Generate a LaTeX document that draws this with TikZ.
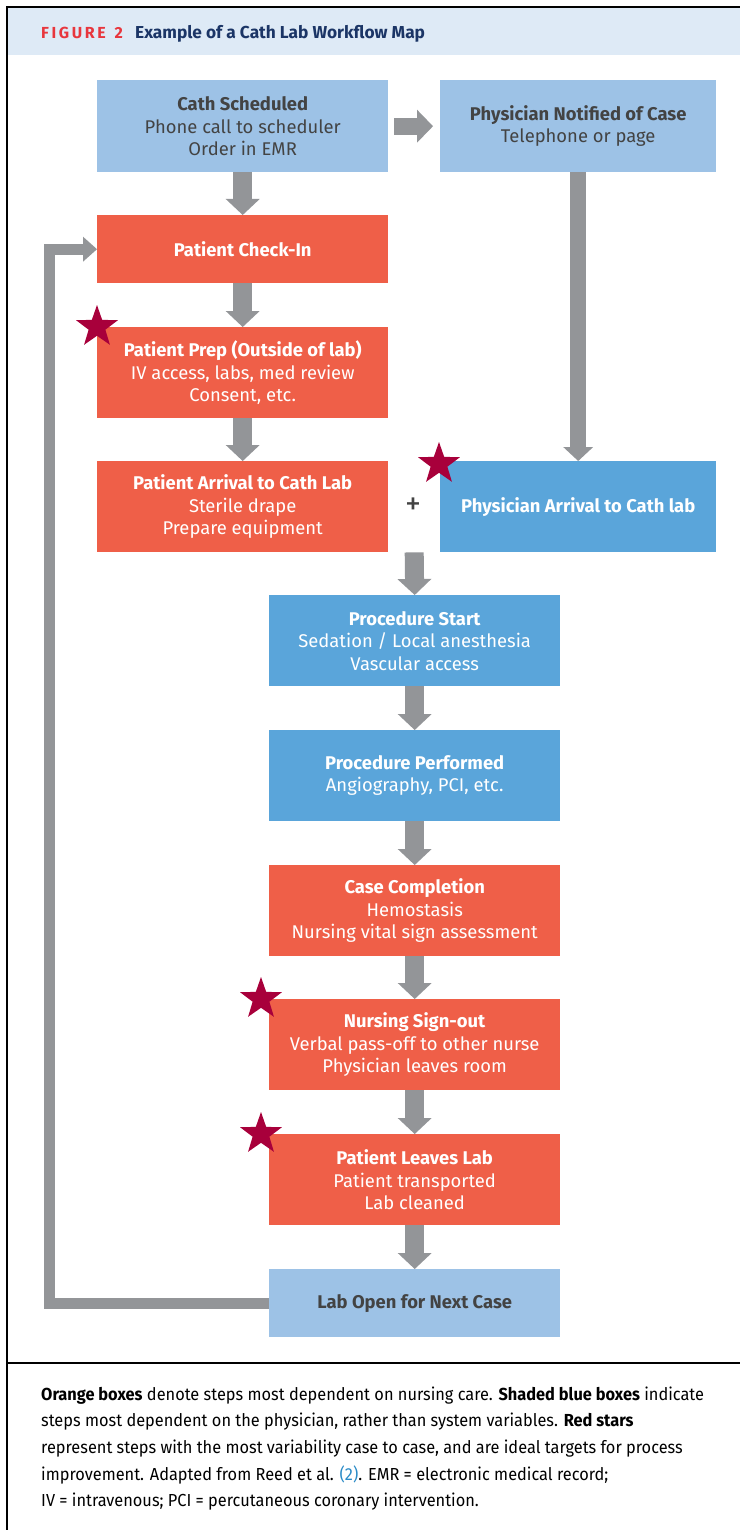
\documentclass[tikz,border=0pt]{standalone}
\usepackage{fontspec}
\setmainfont{Fira Sans}
\newfontfamily\capfont[FakeStretch=0.94]{Fira Sans}
\newfontfamily\headfont{Fira Sans}
\usetikzlibrary{arrows.meta,shapes.geometric,calc}
\definecolor{lblue}{HTML}{9DC2E6}
\definecolor{mblue}{HTML}{5AA5DA}
\definecolor{oran}{HTML}{EF5F48}
\definecolor{arrgray}{HTML}{939598}
\definecolor{starred}{HTML}{A8003B}
\definecolor{txtgray}{HTML}{434343}
\definecolor{headbg}{HTML}{DEEAF6}
\definecolor{navy}{HTML}{1B3566}
\definecolor{figred}{HTML}{E8363D}
\definecolor{linkblue}{HTML}{2A8BC7}
\tikzset{
  box/.style={rectangle, inner sep=0pt, align=center, anchor=north west,
    font=\fontsize{18.4}{22.5}\selectfont},
  lbbox/.style={box, fill=lblue, text=txtgray},
  mbbox/.style={box, fill=mblue, text=white},
  orbox/.style={box, fill=oran, text=white},
  dn/.style={draw=arrgray, line width=19pt,
    -{Triangle[width=34pt,length=16pt,line width=0pt]}},
  redstar/.style={star, star points=5, star point ratio=2.5, fill=starred,
    inner sep=0pt, minimum size=44pt},
  capline/.style={anchor=base west, inner sep=0pt, text=black,
    font=\capfont\fontsize{17.4}{20}\selectfont},
}
\newcommand{\ls}{\kern2.6pt}
\begin{document}
\begin{tikzpicture}[x=1pt,y=-1pt]
\useasboundingbox (0,0) rectangle (740,1530);
\fill[white] (0,0) rectangle (740,1530);
% header
\fill[headbg] (8,8) rectangle (740,55);
\draw[line width=2pt] (7,1530) -- (7,7) -- (740,7);
\draw[line width=2pt] (7,1363) -- (740,1363);
\node[anchor=base west, inner sep=0pt, text=figred,
  font=\headfont\bfseries\fontsize{16}{18}\selectfont] (figno) at (41,39)
  {F\ls I\ls G\ls U\ls R\ls E\ls\ \ls 2};
\node[anchor=base west, inner sep=0pt, text=navy,
  font=\headfont\bfseries\fontsize{17.3}{18}\selectfont] (title) at (135,39)
  {Example of a Cath Lab Workflow Map};
% boxes
\node[lbbox, minimum width=291pt, minimum height=92pt] (cath) at (97,80)
  {\textbf{Cath Scheduled}\\Phone call to scheduler\\Order in EMR};
\node[lbbox, minimum width=276pt, minimum height=92pt] (physnot) at (440,80)
  {\textbf{Physician Notified of Case}\\Telephone or page};
\node[orbox, minimum width=291pt, minimum height=68pt] (checkin) at (97,215)
  {\textbf{Patient Check-In}};
\node[orbox, minimum width=291pt, minimum height=91pt] (prep) at (97,327)
  {\textbf{Patient Prep (Outside of lab)}\\IV access, labs, med review\\Consent, etc.};
\node[orbox, minimum width=291pt, minimum height=91pt] (arrival) at (97,461)
  {\textbf{Patient Arrival to Cath Lab}\\Sterile drape\\Prepare equipment};
\node[mbbox, minimum width=276pt, minimum height=91pt] (physarr) at (440,461)
  {\textbf{Physician Arrival to Cath lab}};
\node[mbbox, minimum width=291pt, minimum height=91pt] (procstart) at (269,595)
  {\textbf{Procedure Start}\\Sedation / Local anesthesia\\Vascular access};
\node[mbbox, minimum width=291pt, minimum height=91pt] (procperf) at (269,730)
  {\textbf{Procedure Performed}\\Angiography, PCI, etc.};
\node[orbox, minimum width=291pt, minimum height=91pt] (casecomp) at (269,865)
  {\textbf{Case Completion}\\Hemostasis\\Nursing vital sign assessment};
\node[orbox, minimum width=291pt, minimum height=91pt] (signout) at (269,999)
  {\textbf{Nursing Sign-out}\\Verbal pass-off to other nurse\\Physician leaves room};
\node[orbox, minimum width=291pt, minimum height=91pt] (leaves) at (269,1134)
  {\textbf{Patient Leaves Lab}\\Patient transported\\Lab cleaned};
\node[lbbox, minimum width=291pt, minimum height=68pt] (labopen) at (269,1269)
  {\textbf{Lab Open for Next Case}};
% plus sign
\node[inner sep=0pt, text=txtgray, font=\fontsize{32}{32}\selectfont] (plus) at (413,506) {+};
% connectors
\coordinate (join) at ($(arrival.south east)!0.5!(physarr.south west)$);
\draw[draw=arrgray, line width=17pt, shorten <=6pt, shorten >=7pt,
  -{Triangle[width=33pt,length=16pt,line width=0pt]}] (cath.east) -- (physnot.west);
\draw[dn] (cath.south) -- (checkin.north);
\draw[dn] (checkin.south) -- (prep.north);
\draw[dn] (prep.south) -- (arrival.north);
\draw[draw=arrgray, line width=16pt,
  -{Triangle[width=30pt,length=14pt,line width=0pt]}] (physnot.south) -- (physarr.north);
\draw[dn] (join) -- (procstart.north);
\draw[dn] (procstart.south) -- (procperf.north);
\draw[dn] (procperf.south) -- (casecomp.north);
\draw[dn] (casecomp.south) -- (signout.north);
\draw[dn] (signout.south) -- (leaves.north);
\draw[dn] (leaves.south) -- (labopen.north);
\draw[draw=arrgray, line width=11pt, line join=miter,
  -{Triangle[width=25pt,length=14pt,line width=0pt]}]
  (labopen.west) -- ++(-219.5,0) |- (checkin.west);
% stars
\node[redstar] (s1) at (97,327) {};
\node[redstar] (s2) at (439,464) {};
\node[redstar] (s3) at (261,999) {};
\node[redstar] (s4) at (261,1134) {};
% caption
\node[capline] (c1) at (41,1400) {\textbf{Orange boxes} denote steps most dependent on nursing care. \textbf{Shaded blue boxes} indicate};
\node[capline] (c2) at (41,1426.7) {steps most dependent on the physician, rather than system variables. \textbf{Red stars}};
\node[capline] (c3) at (41,1453.3) {represent steps with the most variability case to case, and are ideal targets for process};
\node[capline] (c4) at (41,1480) {improvement. Adapted from Reed et al. {\color{linkblue}(2)}. EMR = electronic medical record;};
\node[capline] (c5) at (41,1506.7) {IV = intravenous; PCI = percutaneous coronary intervention.};
\end{tikzpicture}
\end{document}
